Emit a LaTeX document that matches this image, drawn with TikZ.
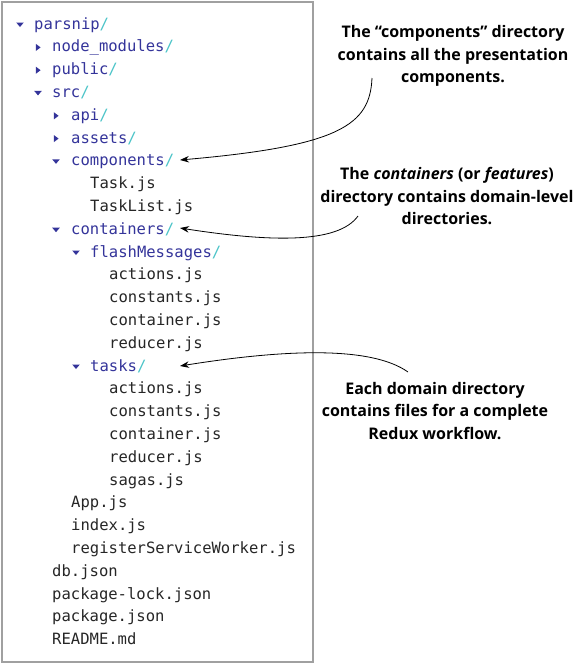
\documentclass[tikz,border=0pt]{standalone}
\usepackage{fontspec}
\setmainfont{Open Sans}
\newfontfamily\treemono{DejaVu Sans Mono}
\newfontfamily\callfont{Open Sans}
\usetikzlibrary{arrows.meta}
\definecolor{dirblue}{HTML}{34349A}
\definecolor{slashcyan}{HTML}{4CC4C8}
\definecolor{filegray}{HTML}{262626}
\definecolor{boxgray}{HTML}{A0A0A0}
\newcommand{\dirn}[1]{\textcolor{dirblue}{#1}\textcolor{slashcyan}{/}}
\begin{document}
\begin{tikzpicture}[x=1pt,y=-1pt,
  row/.style={anchor=base west,inner sep=0pt,font=\treemono\fontsize{15.55}{16}\selectfont,text=filegray},
  callout/.style={align=center,inner sep=0pt,font=\callfont\bfseries\fontsize{16}{22.5}\selectfont,text=black},
  conn/.style={draw=black,line width=0.8pt,-{Stealth[length=9pt,width=6.5pt]}},
]
\useasboundingbox (0,0) rectangle (575,665);
\draw[boxgray,line width=1.5pt] (2,2) rectangle (313,662);
% rows
\def\bl#1{29+22.8*#1}
\node[row] (r0) at (34,{\bl{0}}) {\dirn{parsnip}};
\node[row] (r1) at (52,{\bl{1}}) {\dirn{node\_modules}};
\node[row] (r2) at (52,{\bl{2}}) {\dirn{public}};
\node[row] (r3) at (52,{\bl{3}}) {\dirn{src}};
\node[row] (r4) at (71,{\bl{4}}) {\dirn{api}};
\node[row] (r5) at (71,{\bl{5}}) {\dirn{assets}};
\node[row] (r6) at (71,{\bl{6}}) {\dirn{components}};
\node[row] (r7) at (90,{\bl{7}}) {Task.js};
\node[row] (r8) at (90,{\bl{8}}) {TaskList.js};
\node[row] (r9) at (71,{\bl{9}}) {\dirn{containers}};
\node[row] (r10) at (90,{\bl{10}}) {\dirn{flashMessages}};
\node[row] (r11) at (109,{\bl{11}}) {actions.js};
\node[row] (r12) at (109,{\bl{12}}) {constants.js};
\node[row] (r13) at (109,{\bl{13}}) {container.js};
\node[row] (r14) at (109,{\bl{14}}) {reducer.js};
\node[row] (r15) at (90,{\bl{15}}) {\dirn{tasks}};
\node[row] (r16) at (109,{\bl{16}}) {actions.js};
\node[row] (r17) at (109,{\bl{17}}) {constants.js};
\node[row] (r18) at (109,{\bl{18}}) {container.js};
\node[row] (r19) at (109,{\bl{19}}) {reducer.js};
\node[row] (r20) at (109,{\bl{20}}) {sagas.js};
\node[row] (r21) at (71,{\bl{21}}) {App.js};
\node[row] (r22) at (71,{\bl{22}}) {index.js};
\node[row] (r23) at (71,{\bl{23}}) {registerServiceWorker.js};
\node[row] (r24) at (52,{\bl{24}}) {db.json};
\node[row] (r25) at (52,{\bl{25}}) {package-lock.json};
\node[row] (r26) at (52,{\bl{26}}) {package.json};
\node[row] (r27) at (52,{\bl{27}}) {README.md};
% triangles: down (open) and right (closed)
\foreach \x/\i in {20/0,38/3,56/6,56/9,76/10,76/15}{
  \fill[dirblue] ({\x-3.8},{\bl{\i}-6.5}) -- ({\x+3.8},{\bl{\i}-6.5}) -- (\x,{\bl{\i}-2}) -- cycle;
}
\foreach \x/\i in {38/1,38/2,56/4,56/5}{
  \fill[dirblue] ({\x-2.2},{\bl{\i}-8}) -- ({\x-2.2},{\bl{\i}-0.8}) -- ({\x+2.6},{\bl{\i}-4.4}) -- cycle;
}
% callouts
\node[callout] (c1) at (453,56) {The “components” directory\\contains all the presentation\\components.};
\node[callout] (c2) at (447,196) {The \textit{containers} (or \textit{features})\\directory contains domain-level\\directories.};
\node[callout] (c3) at (435,411) {Each domain directory\\contains files for a complete\\Redux workflow.};
% arrow tips
\coordinate (t1) at (180,160);
\coordinate (t2) at (180,228);
\coordinate (t3) at (180,366);
\coordinate (s1) at (372,78);
\coordinate (s2) at (358,216);
\coordinate (s3) at (408,372);
\draw[conn] (s1) .. controls (370,125) and (340,146) .. (t1);
\draw[conn] (s2) .. controls (338,244) and (270,242) .. (t2);
\draw[conn] (s3) .. controls (370,345) and (280,350) .. (t3);
\end{tikzpicture}
\end{document}
